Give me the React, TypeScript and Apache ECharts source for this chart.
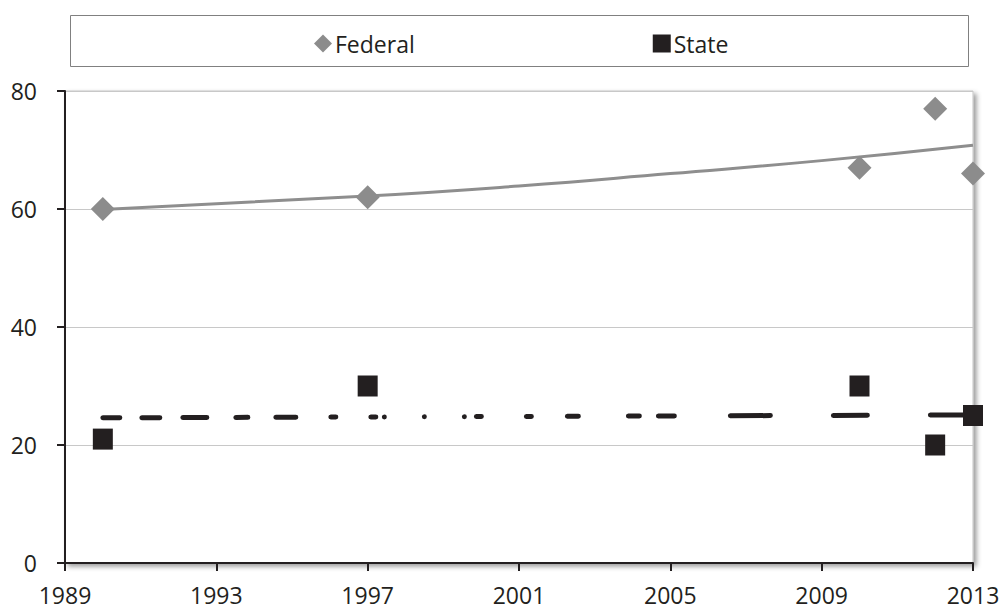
import React, { useEffect, useRef } from "react";
import * as echarts from "echarts";

const xTicks = { min: 1989, max: 2013, interval: 4 };
const yTicks = { min: 0, max: 80, interval: 20 };

const federalYears = [1990, 1997, 2010, 2012, 2013];
const federalValues = [60, 62, 67, 77, 66];

const stateYears = [1990, 1997, 2010, 2012, 2013];
const stateValues = [21, 30, 30, 20, 25];

// trend lines
const federalTrendYears = [1990, 1997, 2001, 2005, 2009, 2013];
const federalTrendValues = [59.9, 62.2, 63.9, 66.0, 68.2, 70.8];

const stateTrendYears = [1990, 2013];
const stateTrendValues = [24.6, 25.1];

const seriesNames = ["Federal", "State"];

const FONT = "'Open Sans', 'Noto Sans', sans-serif";
const TEXT = "#231f20";

export default function App() {
  const ref = useRef<HTMLDivElement>(null);

  useEffect(() => {
    if (!ref.current) return;
    const chart = echarts.init(ref.current, undefined, { renderer: "svg" });
    const zip = (xs: number[], ys: number[]) => xs.map((x, i) => [x, ys[i]]);

    chart.setOption({
      animation: false,
      backgroundColor: "#ffffff",
      textStyle: { fontFamily: FONT },
      graphic: [
        {
          type: "rect",
          shape: { x: 70.5, y: 15.5, width: 898, height: 51 },
          style: { fill: "none", stroke: "#808080", lineWidth: 1 },
          z: 0,
        },
      ],
      legend: {
        data: [
          { name: seriesNames[0], icon: "diamond" },
          { name: seriesNames[1], icon: "rect" },
        ],
        left: 309,
        top: 27,
        itemWidth: 18,
        itemHeight: 18,
        itemGap: 238,
        textStyle: {
          fontFamily: FONT,
          fontSize: 23,
          color: TEXT,
          padding: [0, 0, 0, -2],
        },
      },
      grid: {
        left: 65,
        right: 30,
        top: 91,
        bottom: 48,
        show: true,
        backgroundColor: "#ffffff",
        borderColor: "#c4c4c4",
        borderWidth: 1,
        shadowColor: "rgba(0,0,0,0.4)",
        shadowBlur: 5,
        shadowOffsetX: 3,
        shadowOffsetY: 3,
      },
      xAxis: {
        type: "value",
        min: xTicks.min,
        max: xTicks.max,
        interval: xTicks.interval,
        axisLine: { lineStyle: { color: TEXT, width: 2 } },
        axisTick: { show: true, length: 8, lineStyle: { color: TEXT, width: 2 } },
        splitLine: { show: false },
        axisLabel: {
          formatter: (v: number) => String(v),
          fontFamily: FONT,
          fontSize: 23,
          color: TEXT,
          margin: 21,
          lineHeight: 22,
          showMaxLabel: true,
          showMinLabel: true,
        },
      },
      yAxis: {
        type: "value",
        min: yTicks.min,
        max: yTicks.max,
        interval: yTicks.interval,
        axisLine: { show: true, lineStyle: { color: TEXT, width: 2 } },
        axisTick: { show: true, length: 8, lineStyle: { color: TEXT, width: 2 } },
        splitLine: { show: true, lineStyle: { color: "#c8c8c8", width: 1 } },
        axisLabel: {
          fontFamily: FONT,
          fontSize: 23,
          color: TEXT,
          margin: 28,
        },
      },
      series: [
        {
          name: "Federal trend",
          type: "line",
          data: zip(federalTrendYears, federalTrendValues),
          smooth: true,
          showSymbol: false,
          symbol: "none",
          lineStyle: { color: "#8e8e8e", width: 3 },
          z: 2,
          silent: true,
        },
        {
          name: "State trend",
          type: "line",
          data: zip(stateTrendYears, stateTrendValues),
          showSymbol: false,
          symbol: "none",
          lineStyle: {
            color: TEXT,
            width: 5,
            cap: "round",
            type: [17, 22, 18, 23, 24, 29, 12, 28, 20, 35, 5, 35, 5, 8.5, 0.01, 40, 0.01, 40, 0.01, 12, 5, 45, 5, 36, 11, 50, 11, 19, 16, 56, 40, 63, 34, 63, 80, 10],
          },
          z: 2,
          silent: true,
        },
        {
          name: seriesNames[0],
          type: "scatter",
          data: zip(federalYears, federalValues),
          symbol: "diamond",
          symbolSize: [24, 24],
          itemStyle: { color: "#8c8c8c", opacity: 1 },
          z: 3,
        },
        {
          name: seriesNames[1],
          type: "scatter",
          data: zip(stateYears, stateValues),
          symbol: "rect",
          symbolSize: [20, 21],
          itemStyle: { color: TEXT, opacity: 1 },
          z: 3,
        },
      ],
    });

    return () => chart.dispose();
  }, []);

  return (
    <div
      ref={ref}
      style={{ position: "fixed", left: 0, top: 0, width: 1003, height: 611 }}
    />
  );
}
